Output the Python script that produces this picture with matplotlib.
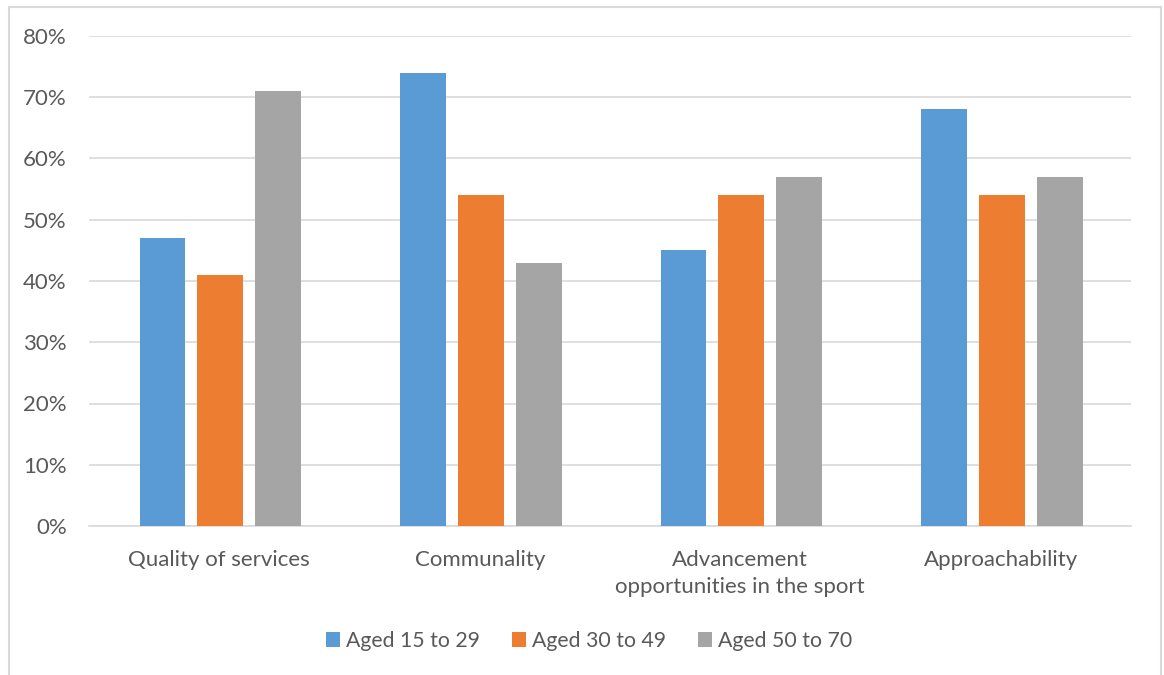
import matplotlib.pyplot as plt
import numpy as np
from matplotlib.patches import Rectangle
from matplotlib.ticker import FuncFormatter

categories = ["Quality of services", "Communality",
              "Advancement\nopportunities in the sport", "Approachability"]
series_names = ["Aged 15 to 29", "Aged 30 to 49", "Aged 50 to 70"]
aged_15_29 = [47, 74, 45, 68]
aged_30_49 = [41, 54, 54, 54]
aged_50_70 = [71, 43, 57, 57]
colors = ["#5B9BD5", "#ED7D31", "#A5A5A5"]

plt.rcParams['font.family'] = ['Lato', 'DejaVu Sans']
text_color = "#595959"

fig = plt.figure(figsize=(11.64, 6.75), dpi=100)
ax = fig.add_axes([89 / 1164, 1 - 526 / 675, (1131 - 89) / 1164, (526 - 36) / 675])

x = np.arange(len(categories))
width = 0.176
step = 0.222
for i, (vals, name, c) in enumerate(zip([aged_15_29, aged_30_49, aged_50_70], series_names, colors)):
    ax.bar(x + (i - 1) * step + 0.004, vals, width, color=c, label=name, zorder=3)

ax.set_xlim(-0.5, len(categories) - 0.5)
ax.set_ylim(0, 80)
ax.set_yticks(range(0, 81, 10))
ax.yaxis.set_major_formatter(FuncFormatter(lambda v, p: f"{int(v)}%"))
ax.grid(axis='y', color="#D9D9D9", linewidth=1.2, zorder=0)
ax.set_xticks(x)
ax.set_xticklabels(categories, linespacing=1.45)
ax.tick_params(axis='both', length=0, labelsize=16, colors=text_color)
ax.tick_params(axis='x', pad=17)
ax.tick_params(axis='y', pad=16)
for s in ["top", "right", "left"]:
    ax.spines[s].set_visible(False)
ax.spines["bottom"].set_color("#D9D9D9")
ax.spines["bottom"].set_linewidth(1.2)

leg = fig.legend(loc="center", bbox_to_anchor=(589 / 1164, 1 - 641 / 675), ncol=3,
                 frameon=False, fontsize=15.3, handlelength=0.66, handleheight=0.66,
                 handletextpad=0.28, columnspacing=1.5)
for t in leg.get_texts():
    t.set_color(text_color)

# chart area border
fig.patches.append(Rectangle((8.5 / 1164, -0.05), (1161 - 8.5) / 1164, 1.05 - 6.5 / 675,
                             transform=fig.transFigure, fill=False,
                             edgecolor="#D9D9D9", linewidth=1.5))

fig.savefig("out.png", dpi=100)
